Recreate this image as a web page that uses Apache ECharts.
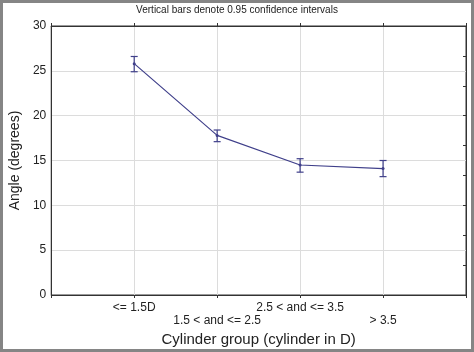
<!DOCTYPE html>
<html><head><meta charset="utf-8">
<script src="https://cdn.jsdelivr.net/npm/echarts@6/dist/echarts.min.js"></script>
<style>html,body{margin:0;padding:0;background:#fff}#c{width:474px;height:352px}</style>
</head><body><div id="c"></div>
<script>
const categories = ['<= 1.5D', '1.5 < and <= 2.5', '2.5 < and <= 3.5', '> 3.5'];
const means = [25.8, 17.8, 14.5, 14.1];
const ciLower = [24.9, 17.1, 13.7, 13.2];
const ciUpper = [26.6, 18.4, 15.2, 15.0];
const yTicks = [0, 5, 10, 15, 20, 25, 30];

const font = 'Liberation Sans, Arial, sans-serif';
const lineColor = '#3f3f8a';
const chart = echarts.init(document.getElementById('c'));
const lineData = means.map((v, i) => [i + 1, v]);
const errData = means.map((v, i) => [i + 1, ciLower[i], ciUpper[i]]);

chart.setOption({
  animation: false,
  backgroundColor: '#fff',
  title: {
    text: 'Vertical bars denote 0.95 confidence intervals',
    left: 'center', top: 0,
    textStyle: { fontFamily: font, fontSize: 10, fontWeight: 'normal', color: '#222' }
  },
  graphic: [{
    type: 'rect', z: 100, silent: true,
    shape: { x: 1.5, y: 1.5, width: 471, height: 349 },
    style: { fill: 'none', stroke: '#858585', lineWidth: 3 }
  }],
  grid: { left: 48, right: 8, top: 26, bottom: 57, show: true, borderColor: '#333', borderWidth: 1, backgroundColor: '#fff' },
  xAxis: [{
    type: 'value', min: 0, max: 5, interval: 1,
    name: 'Cylinder group (cylinder in D)', nameLocation: 'middle', nameGap: 36,
    nameTextStyle: { fontFamily: font, fontSize: 15, color: '#222' },
    axisLine: { show: true, onZero: false, lineStyle: { color: '#333' } },
    axisTick: { show: true, length: 3, lineStyle: { color: '#333' } },
    splitLine: { show: true, lineStyle: { color: '#dcdcdc' } },
    axisLabel: {
      fontFamily: font, fontSize: 12, color: '#222', margin: 6, lineHeight: 13,
      formatter: function (v) {
        const i = Math.round(v) - 1;
        if (i < 0 || i >= categories.length) return '';
        return (i % 2 === 1 ? '\n' : '') + categories[i];
      }
    }
  }, {
    type: 'value', min: 0, max: 5, interval: 1, position: 'top',
    axisLine: { show: true, onZero: false, lineStyle: { color: '#333' } },
    axisTick: { show: true, length: 3, lineStyle: { color: '#333' } },
    axisLabel: { show: false }, splitLine: { show: false }
  }],
  yAxis: [{
    type: 'value', min: yTicks[0], max: yTicks[yTicks.length - 1], interval: 5,
    name: 'Angle (degrees)', nameLocation: 'middle', nameGap: 27,
    nameTextStyle: { fontFamily: font, fontSize: 14, color: '#222' },
    axisLine: { show: true, onZero: false, lineStyle: { color: '#333' } },
    axisTick: { show: false },
    splitLine: { show: true, lineStyle: { color: '#dcdcdc' } },
    axisLabel: { fontFamily: font, fontSize: 12, color: '#222', margin: 5 }
  }, {
    type: 'value', min: 0, max: 30, interval: 10 / 3, position: 'right',
    axisLine: { show: true, onZero: false, lineStyle: { color: '#333' } },
    axisTick: { show: true, inside: true, length: 3, lineStyle: { color: '#333' } },
    axisLabel: { show: false }, splitLine: { show: false }
  }],
  series: [{
    type: 'line', data: lineData, symbol: 'circle', symbolSize: 3,
    lineStyle: { color: lineColor, width: 1.2 },
    itemStyle: { color: lineColor }
  }, {
    type: 'custom', data: errData,
    renderItem: function (params, api) {
      const x = api.value(0);
      const lo = api.coord([x, api.value(1)]);
      const hi = api.coord([x, api.value(2)]);
      const w = 3.5;
      const st = { stroke: lineColor, lineWidth: 1.2, fill: 'none' };
      return { type: 'group', children: [
        { type: 'line', shape: { x1: lo[0], y1: lo[1], x2: hi[0], y2: hi[1] }, style: st },
        { type: 'line', shape: { x1: lo[0] - w, y1: lo[1], x2: lo[0] + w, y2: lo[1] }, style: st },
        { type: 'line', shape: { x1: hi[0] - w, y1: hi[1], x2: hi[0] + w, y2: hi[1] }, style: st }
      ]};
    }
  }]
});
</script></body></html>
